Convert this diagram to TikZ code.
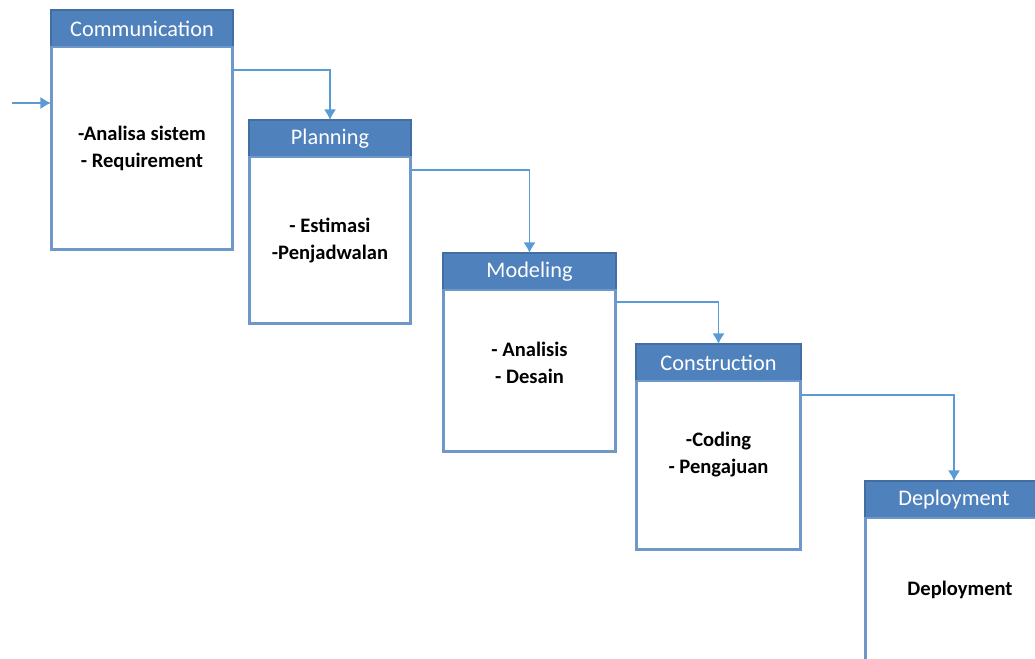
\documentclass[tikz,border=0pt]{standalone}
\usepackage{fontspec}
\setmainfont{Carlito}
\usetikzlibrary{positioning, arrows.meta}
\definecolor{hdrblue}{RGB}{79,129,189}
\definecolor{boxline}{RGB}{110,152,202}
\definecolor{flowblue}{RGB}{91,155,213}

\begin{document}
\begin{tikzpicture}[x=0.02cm,y=-0.02cm,node distance=0pt,
  head/.style={draw=hdrblue!85!black,fill=hdrblue,text=white,line width=1pt,
    outer sep=0pt,inner sep=0pt,minimum height=0.74cm,font=\fontsize{12.7}{15}\selectfont},
  body/.style={draw=boxline,fill=white,line width=1.7pt,outer sep=0pt,inner sep=0pt},
  txt/.style={align=center,inner sep=0pt,font=\fontsize{11.7}{15.3}\selectfont\bfseries},
  flow/.style={draw=flowblue,line width=1.1pt,-{Latex[length=6pt,width=7pt]}}]
\useasboundingbox (0,0) rectangle (1035,659);

\node[head,minimum width=3.64cm] (commh) at (142,28.5) {Communication};
\node[body,minimum width=3.64cm,minimum height=4.06cm] (commb) [below=of commh] {};
\node[txt] (commt) at (commb) {-Analisa sistem\\- Requirement};
\node[head,minimum width=3.24cm] (planh) at (330,138.5) {Planning};
\node[body,minimum width=3.24cm,minimum height=3.34cm] (planb) [below=of planh] {};
\node[txt] (plant) at (planb) {- Estimasi\\-Penjadwalan};
\node[head,minimum width=3.46cm] (modh) at (529.5,271.5) {Modeling};
\node[body,minimum width=3.46cm,minimum height=3.24cm] (modb) [below=of modh] {};
\node[txt] (modt) at ([yshift=0.16cm]modb.center) {- Analisis\\- Desain};
\node[head,minimum width=3.30cm] (consh) at (718.5,362.5) {Construction};
\node[body,minimum width=3.30cm,minimum height=3.38cm] (consb) [below=of consh] {};
\node[txt] (const) at ([yshift=0.22cm]consb.center) {-Coding\\- Pengajuan};
\node[head,minimum width=3.56cm] (deph) at (954,499.5) {Deployment};
\node[body,minimum width=3.56cm,minimum height=2.88cm] (depb) [below=of deph] {};
\node[txt] (dept) at ([xshift=0.12cm]depb.center) {Deployment};

\coordinate (in) at (12,103);
\draw[flow] (in) -- (in -| commb.west);
\draw[flow] ([yshift=-0.46cm]commb.north east) -| (planh.north);
\draw[flow] ([yshift=-0.26cm]planb.north east) -| (modh.north);
\draw[flow] ([yshift=-0.24cm]modb.north east) -| (consh.north);
\draw[flow] ([yshift=-0.28cm]consb.north east) -| (deph.north);
\end{tikzpicture}
\end{document}
